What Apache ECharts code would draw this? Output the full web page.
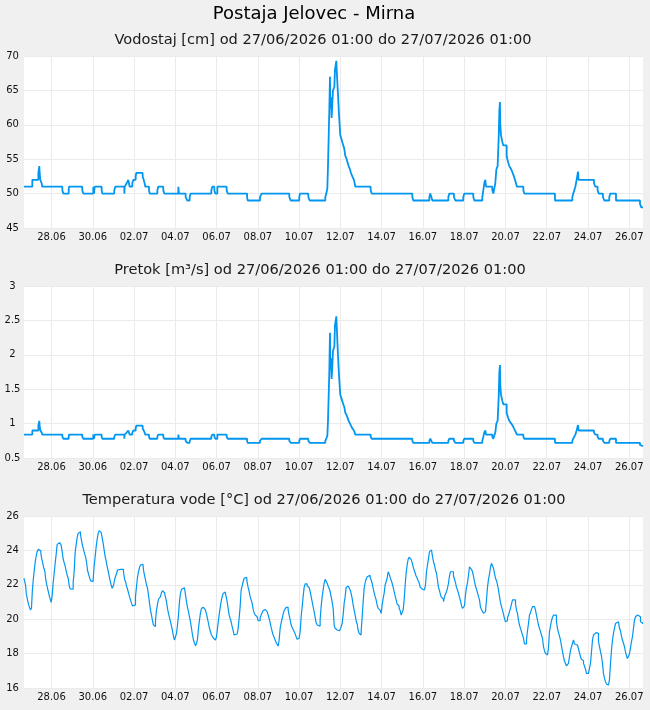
<!DOCTYPE html>
<html><head><meta charset="utf-8">
<script src="https://cdn.jsdelivr.net/npm/echarts@6/dist/echarts.min.js"></script>
<style>html,body{margin:0;padding:0;background:#f0f0f0}#c{width:650px;height:710px}</style>
</head><body><div id="c"></div><script>
const mainTitle = 'Postaja Jelovec - Mirna';
const panelTitles = [
  'Vodostaj [cm] od 27/06/2026 01:00 do 27/07/2026 01:00',
  'Pretok [m³/s] od 27/06/2026 01:00 do 27/07/2026 01:00',
  'Temperatura vode [°C] od 27/06/2026 01:00 do 27/07/2026 01:00'
];
const dateLabels = ['28.06','30.06','02.07','04.07','06.07','08.07','10.07','12.07','14.07','16.07','18.07','20.07','22.07','24.07','26.07'];
// hours since 27/06/2026 01:00 at which level / discharge change
const stepHours = [0,9.7,16.7,17.8,18.2,19,20.5,21.3,44.6,45.7,52,52.3,67.8,69,80.6,81.4,82.2,90.3,91.1,105,106.2,116.7,117.1,119.4,121.3,122.9,126,127.2,129.9,130.6,138,139.2,140.3,141.1,145.4,146.2,155.1,156.2,162,163.2,179.5,180.3,188,190,192.7,193.9,217.9,219,221.4,222.5,224.9,235.7,236.9,259.5,260.1,274.5,276.4,308.6,310.2,320.2,321,330.7,332.3,350.5,351.6,352.8,353.6,355.1,355.9,356.3,357.1,357.8,358.6,359.4,361,361.7,363.3,363.7,365.2,366.4,367.9,369.1,370.2,371.4,372.6,373.7,375.3,376.5,377.6,379.2,380.3,381.9,383.8,385.4,403.2,404.4,451.7,452.8,471.5,472.6,473.8,475,493.6,494.7,500.1,501.7,511,512.2,522.6,523.8,533.1,534.3,535.4,536.6,537.4,544.7,545.9,548.2,549.4,550.9,552.1,552.9,553.6,554,554.8,556.4,557.5,561.4,562.2,563.3,564.5,566.8,568.4,569.9,571.1,573.4,580.8,582,617.6,637.8,638.9,640.1,641.3,642.8,644.4,645.1,663,664.5,667.2,668.4,673.4,675,680.8,682,688.6,716.5,718,720];
const levelCm = [51,52,53,54,53,52,51.5,51,50.5,50,50.5,51,50.5,50,51,50,51,50.5,50,50.5,51,50,51,51.5,52,51,51.5,52,52.5,53,52.5,52,51.5,51,50.5,50,50.5,51,50.5,50,51,50,49.5,49,49.5,50,50.5,51,50.5,50,51,50.5,50,49.5,49,49.5,50,49.5,49,49.5,50,49.5,49,49.5,50,50.7,54,62,67,62.5,64,61,63,65,65.5,68,69.3,68,64.5,61.5,58.5,58,57.5,57,56.5,55.5,55,54.5,54,53.5,53,52.5,52,51,50.5,50,49.5,49,49.5,50,49.5,49,49.5,50,49.5,49,49.5,50,49.5,49,49.5,50.5,51.5,52,51,50.5,50,51.5,53.5,54,58,62,63.3,60,58.5,57.5,57,55.5,55,54.5,54,53.5,53,52.5,52,51,50.5,50,49,49.5,50,50.5,51,52,53.2,52,51.5,51,50.5,50,49.5,49,49.5,50,49,48.5,48,48];
const flowM3s = [0.84,0.90,0.97,1.04,0.97,0.90,0.87,0.84,0.81,0.78,0.81,0.84,0.81,0.78,0.84,0.78,0.84,0.81,0.78,0.81,0.84,0.78,0.84,0.87,0.90,0.84,0.87,0.90,0.93,0.97,0.93,0.90,0.87,0.84,0.81,0.78,0.81,0.84,0.81,0.78,0.84,0.78,0.75,0.72,0.75,0.78,0.81,0.84,0.81,0.78,0.84,0.81,0.78,0.75,0.72,0.75,0.78,0.75,0.72,0.75,0.78,0.75,0.72,0.75,0.78,0.82,1.04,1.74,2.32,1.78,1.95,1.65,1.82,2.06,2.12,2.43,2.56,2.43,2.0,1.70,1.42,1.37,1.33,1.28,1.24,1.16,1.12,1.08,1.04,1.00,0.97,0.93,0.90,0.84,0.81,0.78,0.75,0.72,0.75,0.78,0.75,0.72,0.75,0.78,0.75,0.72,0.75,0.78,0.75,0.72,0.75,0.81,0.87,0.90,0.84,0.81,0.78,0.87,1.00,1.04,1.37,1.74,1.85,1.57,1.42,1.33,1.28,1.16,1.12,1.08,1.04,1.00,0.97,0.93,0.90,0.84,0.81,0.78,0.72,0.75,0.78,0.81,0.84,0.90,0.98,0.90,0.87,0.84,0.81,0.78,0.75,0.72,0.75,0.78,0.72,0.69,0.67,0.67];
// [hours since start, water temperature °C]
const temperature = [[0,22.38],[1.2,22.24],[2.3,21.99],[3.1,21.47],[4.7,21.17],[5.8,20.86],[7,20.69],[8.1,20.53],[9.3,20.65],[10.1,21.66],[11.2,22.2],[12.4,22.8],[13.6,23.3],[14.7,23.67],[15.9,23.93],[17.4,24.06],[19,23.98],[20.2,23.83],[21.3,23.48],[22.5,23.25],[23.6,22.96],[24.8,22.8],[25.6,22.34],[26.8,22.05],[27.9,21.8],[29.1,21.56],[30.2,21.31],[31.4,21.12],[31.8,20.98],[32.6,21.17],[33.3,21.47],[34.5,22.09],[35.7,22.67],[36.8,23.25],[38,23.77],[39.2,24.35],[40.3,24.45],[42.6,24.45],[43.8,24.31],[45,23.93],[46.1,23.5],[47.3,23.29],[48.5,23.09],[49.6,22.8],[50.8,22.57],[52,22.38],[53.1,21.95],[54.3,21.76],[55.4,21.66],[56.6,21.74],[57.8,22.14],[58.9,22.76],[60.1,23.87],[61.3,24.35],[62.4,24.74],[63.6,24.99],[65.1,25.09],[66.3,24.95],[67.5,24.57],[68.6,24.28],[69.8,24.06],[70.9,23.83],[72.1,23.64],[73.3,23.34],[74.4,22.86],[75.6,22.63],[76.8,22.43],[77.9,22.24],[79.5,22.18],[81,22.28],[82.2,23.11],[83.4,23.64],[84.5,24.22],[85.7,24.64],[86.8,24.99],[88,25.15],[89.2,25.05],[90.3,24.95],[91.5,24.74],[92.7,24.41],[93.8,24.02],[95,23.64],[96.2,23.38],[97.3,23.05],[98.5,22.8],[99.6,22.51],[100.8,22.24],[102,21.99],[103.1,21.8],[103.9,21.74],[104.7,21.99],[105.8,22.28],[107,22.47],[108.2,22.51],[109.7,22.86],[110.9,22.9],[112.4,22.9],[114,22.96],[115.1,22.9],[116.3,22.76],[117.5,22.34],[118.6,22.18],[119.8,21.95],[121,21.74],[122.1,21.54],[123.3,21.31],[124.5,21.12],[125.6,20.92],[126.8,20.77],[127.9,20.73],[129.1,20.83],[130.3,21.31],[131.4,21.89],[132.6,22.43],[133.8,22.76],[134.9,23],[136.1,23.15],[137.2,23.19],[138.4,23.19],[139.6,22.86],[140.7,22.55],[141.9,22.28],[143.1,21.99],[144.2,21.8],[145.4,21.41],[146.6,20.92],[147.7,20.53],[148.9,20.24],[150,19.91],[151.2,19.66],[152.4,19.57],[153.5,19.91],[154.7,20.53],[155.9,20.88],[157,21.16],[158.2,21.2],[159.3,21.31],[160.5,21.54],[161.7,21.66],[162.8,21.7],[164,21.54],[165.2,21.27],[166.3,21.02],[167.5,20.63],[168.6,20.34],[169.8,20.1],[171,19.85],[172.1,19.6],[173.3,19.33],[174.5,18.98],[175.6,18.79],[176.4,18.71],[176.8,18.75],[178,19.18],[179.1,19.66],[180.3,20.24],[181.4,21.02],[182.6,21.5],[183.8,21.74],[184.9,21.83],[186.1,21.83],[187.3,21.74],[188.4,21.41],[189.6,21.02],[190.7,20.69],[191.9,20.44],[193.1,20.14],[194.2,19.85],[195.4,19.47],[196.6,19.08],[197.7,18.79],[198.9,18.6],[200.1,18.46],[201.2,18.6],[202.4,18.83],[203.5,19.47],[204.7,19.95],[205.9,20.38],[207,20.63],[208.2,20.69],[209.4,20.73],[210.5,20.69],[211.7,20.53],[212.9,20.3],[214,20.04],[215.2,19.75],[216.3,19.47],[217.5,19.28],[218.7,19.08],[219.8,18.98],[221,18.89],[222.2,18.79],[223.3,18.75],[224.5,18.98],[225.6,19.47],[226.8,19.95],[228.7,20.53],[229.9,21.02],[231.1,21.31],[232.2,21.5],[233.4,21.58],[234.6,21.5],[235.7,21.31],[236.9,21.02],[238,20.63],[239.2,20.24],[240.4,20.05],[241.5,19.85],[242.7,19.57],[243.9,19.33],[245,19.08],[246.2,19.02],[247.3,19.14],[248.5,19.18],[249.7,19.47],[250.8,20.05],[252,20.73],[253.2,21.7],[254.3,21.93],[255.5,22.18],[256.7,22.38],[257.8,22.47],[259,22.43],[260.1,22.12],[261.3,21.85],[262.5,21.6],[263.6,21.31],[264.8,21.12],[266,20.92],[267.1,20.57],[268.3,20.38],[269.4,20.24],[270.6,20.14],[271.8,20.04],[272.9,19.91],[274.1,19.91],[275.3,20.1],[276.4,20.24],[277.6,20.38],[278.7,20.5],[279.9,20.57],[281.1,20.57],[282.2,20.53],[283.4,20.44],[284.6,20.24],[285.7,20.04],[286.9,19.79],[288.1,19.52],[289.2,19.28],[290.4,19.08],[291.5,18.94],[292.7,18.79],[293.9,18.64],[295,18.56],[296.2,18.44],[297.4,18.79],[298.5,19.47],[299.7,19.79],[300.9,20.04],[302,20.3],[303.2,20.5],[304.3,20.57],[305.5,20.69],[306.7,20.69],[307.8,20.53],[309,20.24],[310.2,19.95],[311.3,19.66],[312.5,19.52],[313.6,19.41],[314.8,19.28],[316,19.14],[317.1,18.98],[318.3,18.83],[319.5,18.79],[320.6,18.89],[321.8,19.28],[323,20.14],[324.1,20.73],[325.3,21.31],[326.4,21.85],[327.6,22.05],[328.8,22.05],[329.9,21.93],[331.1,21.85],[332.3,21.74],[333.4,21.6],[334.6,21.31],[335.7,21.02],[336.9,20.73],[338.1,20.44],[339.2,20.1],[340.4,19.79],[341.6,19.66],[342.7,19.6],[343.9,19.6],[345,19.95],[346.2,20.73],[347.4,21.31],[348.5,21.7],[349.7,22.09],[350.9,22.32],[352,22.28],[353.2,22.09],[354.3,21.93],[355.5,21.8],[356.7,21.6],[357.8,21.31],[359,21.02],[360.2,20.63],[361.3,19.66],[362.5,19.47],[363.7,19.37],[364.8,19.33],[366,19.33],[367.1,19.33],[368.3,19.41],[369.5,19.57],[370.6,19.75],[371.8,20.24],[373,20.92],[374.1,21.31],[375.3,21.85],[376.5,21.93],[377.6,21.93],[378.8,21.85],[379.9,21.7],[381.1,21.5],[382.3,21.21],[383.4,20.83],[384.6,20.53],[385.8,20.24],[386.9,19.91],[388.1,19.72],[389.2,19.37],[390.4,19.18],[391.6,19.08],[392.7,19.28],[393.9,20.1],[395.1,21.02],[396.2,21.8],[397.4,22.12],[398.6,22.32],[399.7,22.47],[400.9,22.55],[402,22.55],[403.2,22.43],[404.4,22.28],[405.5,22.09],[406.7,21.8],[407.9,21.54],[409,21.31],[410.2,21.12],[411.3,20.83],[412.5,20.63],[413.7,20.53],[414.8,20.44],[416,20.34],[417.2,20.83],[418.3,21.21],[419.5,21.5],[420.6,21.99],[421.8,22.18],[423,22.38],[424.1,22.76],[425.3,22.63],[426.5,22.43],[427.6,22.32],[428.8,22.09],[430,21.85],[431.1,21.6],[432.3,21.35],[433.4,21.12],[434.6,20.88],[435.8,20.77],[436.9,20.63],[438.1,20.5],[439.3,20.24],[440.4,20.24],[441.6,20.53],[442.8,21.12],[443.9,21.99],[445.1,22.67],[446.2,23.15],[447.4,23.48],[448.6,23.6],[449.7,23.6],[450.9,23.48],[452.1,23.29],[453.2,23.05],[454.4,22.86],[455.5,22.76],[456.7,22.51],[457.9,22.38],[459,22.24],[460.2,22.12],[461.8,21.85],[462.9,21.74],[464.1,21.8],[465.3,21.7],[466.4,21.8],[467.6,21.99],[468.7,22.76],[469.9,23.15],[471.1,23.54],[472.2,23.93],[473.4,24.02],[474.6,23.93],[475.7,23.64],[476.9,23.34],[478,23.15],[479.2,22.86],[480.4,22.67],[481.5,22.28],[482.7,21.85],[483.9,21.66],[485,21.41],[486.2,21.27],[487.4,21.16],[488.5,21.02],[489.7,21.31],[490.8,21.41],[492,21.6],[493.2,21.8],[494.3,22.09],[495.5,22.51],[496.7,22.76],[497.8,22.86],[499,22.76],[500.1,22.51],[501.3,22.32],[502.5,22.12],[503.6,21.85],[504.8,21.7],[506,21.5],[507.1,21.27],[508.3,21.08],[509.5,20.77],[510.6,20.63],[511.8,20.57],[512.9,20.77],[514.1,21.41],[515.3,21.85],[516.4,22.12],[517.6,22.57],[518.8,23.05],[519.9,22.96],[521.1,22.9],[522.2,22.76],[523.4,22.51],[524.6,22.18],[525.7,21.93],[526.9,21.74],[528.1,21.54],[529.2,21.31],[530.4,21.12],[531.6,20.69],[532.7,20.57],[533.9,20.5],[535,20.34],[536.2,20.3],[537.4,20.44],[538.5,21.12],[539.7,21.85],[540.9,22.32],[542,22.63],[543.2,23.02],[544.3,23.25],[545.5,23.29],[546.7,22.96],[547.8,22.67],[549,22.38],[550.2,22.24],[551.3,21.99],[552.5,21.7],[553.7,21.31],[554.8,20.96],[556,20.73],[557.1,20.53],[558.3,20.3],[559.5,20.04],[560.6,19.85],[561.8,19.91],[563,20.1],[564.1,20.24],[565.3,20.44],[566.4,20.63],[567.6,20.88],[568.8,21.12],[569.9,21.16],[571.1,21.12],[572.3,20.88],[573.4,20.53],[574.6,20.34],[575.7,19.95],[576.9,19.66],[578.1,19.47],[579.2,19.28],[580.4,19.08],[581.6,18.89],[582.7,18.56],[583.9,18.56],[585.1,18.79],[586.2,19.33],[587.4,19.75],[588.5,20.24],[589.7,20.38],[590.9,20.57],[592,20.73],[593.2,20.73],[594.4,20.69],[595.5,20.53],[596.7,20.24],[597.8,19.95],[599,19.66],[600.2,19.47],[601.3,19.28],[602.5,19.08],[603.7,18.89],[604.8,18.4],[606,18.17],[607.1,18.02],[608.3,17.92],[609.5,18.02],[610.6,18.31],[611.8,19.28],[613,19.6],[614.1,19.91],[615.3,20.1],[616.5,20.24],[617.6,20.3],[618.8,20.24],[619.9,19.85],[621.1,19.47],[622.3,19.22],[623.4,19.02],[624.6,18.79],[625.8,18.44],[626.9,18.11],[628.1,17.82],[629.2,17.57],[630.4,17.43],[631.6,17.28],[632.7,17.24],[633.9,17.43],[635.1,17.82],[636.2,18.17],[637.4,18.4],[638.6,18.6],[639.7,18.79],[640.9,18.56],[642,18.5],[643.2,18.5],[644.4,18.44],[645.5,18.4],[646.7,18.05],[647.9,17.82],[649,17.67],[650.2,17.59],[651.4,17.43],[652.5,17.28],[653.7,17.09],[654.8,16.85],[656,16.81],[657.2,16.85],[658.3,17.14],[659.5,17.43],[660.7,18.11],[661.8,18.79],[663,19.08],[664.1,19.18],[665.3,19.22],[666.5,19.22],[667.6,19.18],[668.8,18.69],[670,18.4],[671.1,18.11],[672.3,17.86],[673.4,17.43],[674.6,16.85],[675.8,16.56],[676.9,16.37],[678.1,16.23],[679.3,16.17],[680.4,16.27],[681.6,16.5],[682.8,17.43],[683.9,18.21],[685.1,18.79],[686.2,19.18],[687.4,19.47],[688.6,19.75],[689.7,19.85],[690.9,19.85],[692.1,19.75],[693.2,19.47],[694.4,19.33],[695.5,19.02],[696.7,18.79],[697.9,18.6],[699,18.4],[700.2,18.11],[701.4,17.86],[702.5,17.72],[703.7,17.63],[704.8,17.98],[706,18.31],[707.2,18.69],[708.3,18.98],[709.5,19.47],[710.7,19.95],[711.8,20.14],[713,20.24],[714.2,20.3],[715.3,20.34],[716.5,20.14],[717.6,19.85],[718.8,19.79],[720,19.72]];

const FONT = 'DejaVu Sans';
const COLOR = '#0396f0';
const tickHours = dateLabels.map((_, i) => 32 + 48 * i);
const fmtDate = v => { const i = Math.round((v - 32) / 48); return dateLabels[i] || ''; };

const gridTops = [56, 286, 516];
const yRanges = [[45, 70, 5], [0.5, 3, 0.5], [16, 26, 2]];

const grids = gridTops.map(t => ({left: 24, width: 619, top: t, height: 172, show: true, backgroundColor: '#ffffff', borderWidth: 0}));
const xAxes = gridTops.map((_, i) => ({
  type: 'value', gridIndex: i, min: 0, max: 720,
  axisLine: {show: false}, axisTick: {show: false, customValues: tickHours},
  axisLabel: {customValues: tickHours, formatter: fmtDate, fontSize: 10, color: '#111', margin: 4, fontFamily: FONT},
  splitLine: {show: true, lineStyle: {color: '#ebebeb', width: 1}}
}));
const yAxes = yRanges.map((r, i) => ({
  type: 'value', gridIndex: i, min: r[0], max: r[1], interval: r[2],
  axisLine: {show: false}, axisTick: {show: false},
  axisLabel: {fontSize: 10, color: '#111', align: 'center', margin: 11.5, fontFamily: FONT},
  splitLine: {show: true, lineStyle: {color: '#ebebeb', width: 1}}
}));

const levelData = stepHours.map((h, i) => [h, levelCm[i]]);
const flowData = stepHours.map((h, i) => [h, flowM3s[i]]);

const chart = echarts.init(document.getElementById('c'), null, {renderer: 'canvas'});
chart.setOption({
  animation: false,
  backgroundColor: '#f0f0f0',
  grid: grids, xAxis: xAxes, yAxis: yAxes,
  graphic: [
    {type: 'text', x: 314, y: 14, style: {text: mainTitle, font: '18px "DejaVu Sans"', fill: '#000', textAlign: 'center', textVerticalAlign: 'middle'}},
    {type: 'text', x: 323, y: 40, style: {text: panelTitles[0], font: '14.6px "DejaVu Sans"', fill: '#1a1a1a', textAlign: 'center', textVerticalAlign: 'middle'}},
    {type: 'text', x: 320, y: 270, style: {text: panelTitles[1], font: '14.6px "DejaVu Sans"', fill: '#1a1a1a', textAlign: 'center', textVerticalAlign: 'middle'}},
    {type: 'text', x: 324, y: 500, style: {text: panelTitles[2], font: '14.6px "DejaVu Sans"', fill: '#1a1a1a', textAlign: 'center', textVerticalAlign: 'middle'}}
  ],
  series: [
    {type: 'line', xAxisIndex: 0, yAxisIndex: 0, data: levelData, step: 'end', showSymbol: false, lineStyle: {color: COLOR, width: 1.8}, itemStyle: {color: COLOR}},
    {type: 'line', xAxisIndex: 1, yAxisIndex: 1, data: flowData, step: 'end', showSymbol: false, lineStyle: {color: COLOR, width: 1.8}, itemStyle: {color: COLOR}},
    {type: 'line', xAxisIndex: 2, yAxisIndex: 2, data: temperature, step: 'middle', showSymbol: false, lineStyle: {color: COLOR, width: 1.2}, itemStyle: {color: COLOR}}
  ]
});
</script></body></html>
